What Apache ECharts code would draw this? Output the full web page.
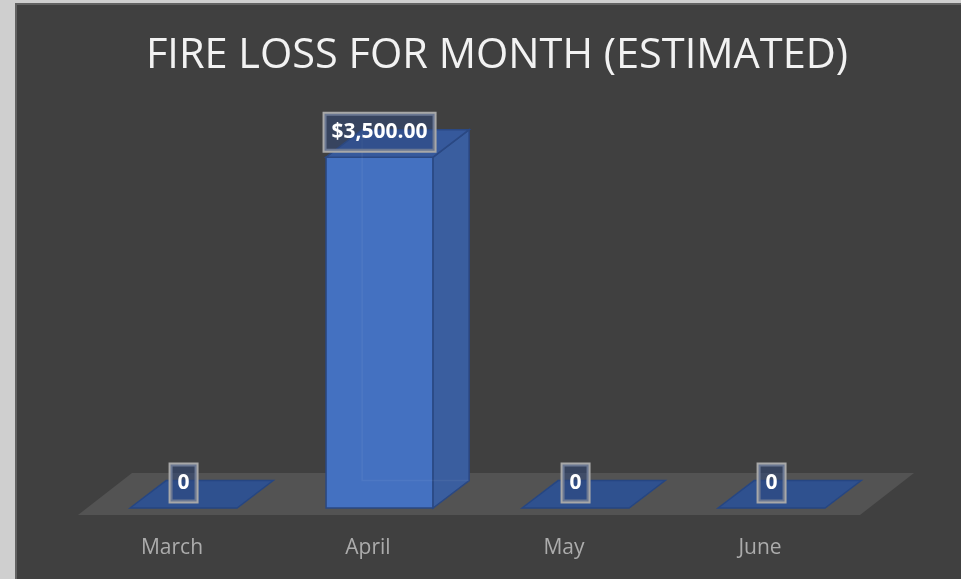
<!DOCTYPE html>
<html>
<head>
<meta charset="utf-8">
<script src="https://cdn.jsdelivr.net/npm/echarts@6/dist/echarts.min.js"></script>
<style>
  html, body { margin: 0; padding: 0; background: #cfcfcf; }
  #fire-loss { width: 961px; height: 579px; }
</style>
</head>
<body>
<div id="fire-loss"></div>
<script>
// data
var months = ['March', 'April', 'May', 'June'];
var fireLoss = [0, 3500, 0, 0];

var chart = echarts.init(document.getElementById('fire-loss'));

function money(v) {
  if (v === 0) return '0';
  return '$' + v.toLocaleString('en-US', { minimumFractionDigits: 2, maximumFractionDigits: 2 });
}

// floor plate under the bars
function renderFloor(params, api) {
  var cs = params.coordSys;
  var yb = cs.y + cs.height;
  return {
    type: 'polygon',
    shape: {
      points: [
        [cs.x + 4, yb + 7],
        [cs.x + cs.width + 2, yb + 7],
        [cs.x + cs.width + 56, yb - 35],
        [cs.x + 58, yb - 35]
      ]
    },
    style: { fill: '#535353' }
  };
}

// 3d-ish bar: front, side and top faces
function renderBar(params, api) {
  var i = api.value(0);
  var v = api.value(1);
  var base = api.coord([i, 0]);
  var top = api.coord([i, v]);
  var band = api.size([1, 0])[0];
  var x1 = base[0] - band * 0.214;
  var x2 = base[0] + band * 0.332;
  var dx = band * 0.184;
  var dy = -band * 0.14;
  var y0 = base[1];
  var y1 = top[1];
  var edge = '#2a4883';
  var kids = [];

  if (v > 0) {
    kids.push({
      type: 'rect',
      shape: { x: x1, y: y1, width: x2 - x1, height: y0 - y1 },
      style: { fill: '#4471c1', stroke: edge, lineWidth: 1.5 }
    });
    kids.push({
      type: 'polygon',
      shape: { points: [[x2, y1], [x2 + dx, y1 + dy], [x2 + dx, y0 + dy], [x2, y0]] },
      style: { fill: '#3a5e9f', stroke: edge, lineWidth: 1.5 }
    });
    kids.push({
      type: 'polygon',
      shape: { points: [[x1, y1], [x1 + dx, y1 + dy], [x2 + dx, y1 + dy], [x2, y1]] },
      style: { fill: '#36599c', stroke: edge, lineWidth: 1.5 }
    });
    // hidden back edges, seen faintly through the faces
    kids.push({
      type: 'polyline',
      shape: { points: [[x1 + dx, y1 + dy], [x1 + dx, y0 + dy], [x2 + dx, y0 + dy]] },
      style: { stroke: 'rgba(255,255,255,0.05)', lineWidth: 1.5, fill: null }
    });
  } else {
    kids.push({
      type: 'polygon',
      shape: { points: [[x1, y0], [x1 + dx, y0 + dy], [x2 + dx, y0 + dy], [x2, y0]] },
      style: { fill: '#2f518f', stroke: '#264682', lineWidth: 1.5 }
    });
  }

  kids.push({
    type: 'text',
    x: (x1 + x2) / 2,
    y: (v > 0 ? y1 : y0) - 25,
    z2: 10,
    style: {
      text: money(v),
      align: 'center',
      verticalAlign: 'middle',
      fill: '#ffffff',
      font: 'bold 21px "Open Sans"',
      backgroundColor: 'rgba(45,72,125,0.5)',
      borderColor: '#a8a8a8',
      borderWidth: 2,
      padding: [8, 7, 8, 7]
    }
  });

  return { type: 'group', children: kids };
}

var option = {
  backgroundColor: '#cfcfcf',
  animation: false,
  graphic: [{
    type: 'rect',
    z: -10,
    shape: { x: 16, y: 4, width: 960, height: 590 },
    style: { fill: '#404040', stroke: '#626262', lineWidth: 2 }
  }],
  title: {
    text: 'FIRE LOSS FOR MONTH (ESTIMATED)',
    left: 497,
    top: 35,
    textAlign: 'center',
    padding: 0,
    textStyle: {
      color: '#f2f2f2',
      fontFamily: 'Open Sans',
      fontWeight: 'normal',
      fontSize: 41.5
    }
  },
  grid: {
    left: 74,
    right: 103,
    top: 107,
    bottom: 71
  },
  xAxis: {
    type: 'category',
    data: months,
    axisLine: { show: false },
    axisTick: { show: false },
    axisLabel: {
      margin: 30,
      color: '#acacac',
      fontFamily: 'Open Sans',
      fontSize: 21
    }
  },
  yAxis: {
    type: 'value',
    min: 0,
    max: 4000,
    show: false
  },
  series: [
    {
      type: 'custom',
      renderItem: renderFloor,
      data: [0],
      z: 1,
      silent: true
    },
    {
      type: 'custom',
      renderItem: renderBar,
      data: fireLoss.map(function (v, i) { return [i, v]; }),
      encode: { x: 0, y: 1 },
      z: 2
    }
  ]
};

chart.setOption(option);
window.onresize = chart.resize;
</script>
</body>
</html>
